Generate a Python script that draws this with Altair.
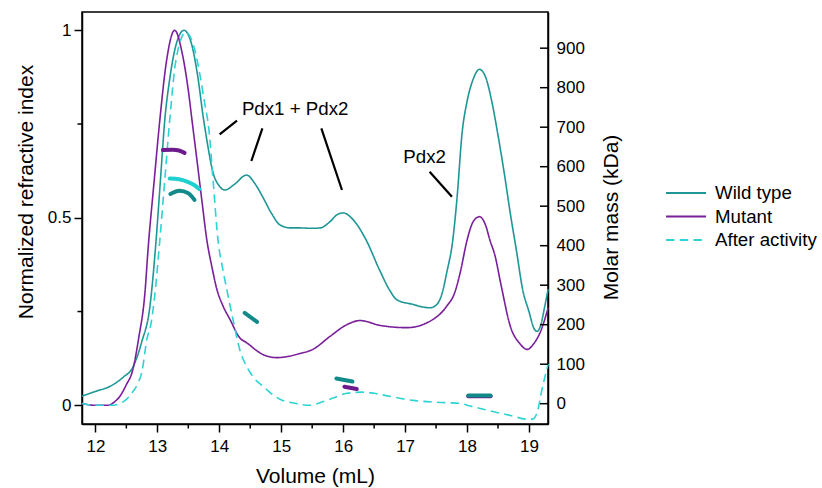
import altair as alt
import pandas as pd

FONT = "Liberation Sans"

# ---------------- data ----------------
series_names = ["Wild type", "Mutant", "After activity"]
series_colors = ["#1f9696", "#7a1f9a", "#2ed3d3"]
series_dash = [[1, 0], [1, 0], [8.5, 5.2]]

wt_x = [11.78, 12.0, 12.23, 12.45, 12.6, 12.75, 12.88, 12.98, 13.05, 13.12, 13.2, 13.3, 13.43,
        13.55, 13.65, 13.74, 13.8, 13.9, 14.0, 14.09, 14.25, 14.44, 14.58, 14.7, 14.85, 14.98,
        15.15, 15.3, 15.5, 15.63, 15.79, 15.9, 16.0, 16.16, 16.37, 16.59, 16.75, 16.87, 17.1,
        17.4, 17.5, 17.6, 17.67, 17.77, 17.84, 17.92, 18.0, 18.1, 18.2, 18.3, 18.4, 18.5, 18.6,
        18.7, 18.8, 18.9, 19.0, 19.08, 19.13, 19.2, 19.25, 19.31]
wt_y = [0.024, 0.037, 0.05, 0.075, 0.1, 0.17, 0.263, 0.44, 0.6, 0.76, 0.87, 0.96, 1.0,
        0.965, 0.88, 0.77, 0.707, 0.62, 0.585, 0.574, 0.59, 0.614, 0.59, 0.556, 0.51, 0.481,
        0.473, 0.473, 0.472, 0.473, 0.49, 0.508, 0.513, 0.495, 0.441, 0.36, 0.307, 0.281, 0.27,
        0.26, 0.267, 0.3, 0.352, 0.441, 0.556, 0.726, 0.81, 0.87, 0.896, 0.875, 0.81, 0.72, 0.62,
        0.51, 0.41, 0.307, 0.25, 0.205, 0.197, 0.22, 0.26, 0.31]

mut_x = [11.78, 12.0, 12.2, 12.3, 12.4, 12.5, 12.6, 12.7, 12.8, 12.85, 12.95, 13.04, 13.15,
         13.28, 13.4, 13.5, 13.56, 13.65, 13.72, 13.8, 13.88, 13.96, 14.06, 14.17, 14.33, 14.44,
         14.71, 14.93, 15.1, 15.3, 15.51, 15.79, 16.06, 16.27, 16.6, 17.03, 17.4, 17.67, 17.8,
         17.89, 18.0, 18.1, 18.2, 18.3, 18.37, 18.45, 18.55, 18.7, 18.85, 18.97, 19.08, 19.18,
         19.31]
mut_y = [0.005, 0.0, 0.0, 0.008, 0.025, 0.055, 0.092, 0.18, 0.3, 0.415, 0.6, 0.76, 0.92,
         1.0, 0.94, 0.84, 0.76, 0.64, 0.545, 0.44, 0.37, 0.31, 0.265, 0.23, 0.18, 0.167,
         0.135, 0.127, 0.13, 0.138, 0.149, 0.184, 0.215, 0.226, 0.213, 0.207, 0.224, 0.264, 0.3,
         0.354, 0.44, 0.49, 0.503, 0.48, 0.44, 0.4, 0.32, 0.21, 0.165, 0.149, 0.165, 0.194,
         0.26]

aa_x = [11.78, 12.0, 12.28, 12.4, 12.5, 12.6, 12.69, 12.75, 12.83, 12.9, 12.95, 13.04, 13.12,
        13.2, 13.3, 13.46, 13.6, 13.7, 13.77, 13.83, 13.9, 13.98, 14.06, 14.12, 14.22, 14.33,
        14.44, 14.55, 14.71, 14.85, 14.98, 15.2, 15.46, 15.68, 15.85, 16.06, 16.32, 16.5, 16.75,
        17.13, 17.51, 17.89, 18.05, 18.25, 18.48, 18.7, 18.97, 19.06, 19.13, 19.22, 19.31]
aa_y = [0.005, 0.0, 0.0, 0.005, 0.016, 0.035, 0.06, 0.088, 0.175, 0.22, 0.28, 0.44, 0.6,
        0.76, 0.92, 0.995, 0.95, 0.87, 0.8, 0.74, 0.6, 0.44, 0.36, 0.31, 0.23, 0.149,
        0.104, 0.075, 0.05, 0.03, 0.016, 0.006, 0.0, 0.01, 0.02, 0.032, 0.035, 0.032, 0.024,
        0.013, 0.008, 0.005, -0.002, -0.01, -0.019, -0.027, -0.037, -0.037, -0.02, 0.05, 0.11]

# molar mass segments (kDa)
seg_ids = ["m1"] * 4 + ["a1"] * 5 + ["w1"] * 4 + ["w2"] * 2 + ["w3"] * 2 + ["m2"] * 2 + ["m3"] * 2 + ["w4"] * 2
seg_series = (["Mutant"] * 4 + ["After activity"] * 5 + ["Wild type"] * 4 + ["Wild type"] * 2
              + ["Wild type"] * 2 + ["Mutant"] * 2 + ["Mutant"] * 2 + ["Wild type"] * 2)
seg_x = [13.09, 13.25, 13.35, 13.44,
         13.2, 13.35, 13.5, 13.6, 13.68,
         13.21, 13.36, 13.5, 13.6,
         14.41, 14.61,
         15.89, 16.15,
         16.02, 16.22,
         18.02, 18.38,
         18.02, 18.38]
seg_mass = [642, 643, 641, 635,
            570, 568, 561, 553, 543,
            531, 539, 533, 516,
            230, 207,
            64, 56,
            43, 37,
            19, 19,
            20.5, 20.5]
seg_names = ["Mutant", "After activity", "Wild type"]
seg_colors = ["#6c1a8c", "#1ed0d0", "#128a8a"]

# annotations
ann_x1 = [14.006, 14.696, 15.648, 17.396]
ann_y1 = [0.7227, 0.7387, 0.7387, 0.623]
ann_x2 = [14.286, 14.518, 15.981, 17.756]
ann_y2 = [0.759, 0.6515, 0.5741, 0.556]
lab_text = ["Pdx1 + Pdx2", "Pdx2"]
lab_x = [15.225, 17.316]
lab_y = [0.774, 0.645]

x_ticks = [12, 13, 14, 15, 16, 17, 18, 19]
x_minor = [12.5, 13.5, 14.5, 15.5, 16.5, 17.5, 18.5]
ri_ticks = [0, 0.5, 1]
ri_minor = [0.25, 0.75]
mass_ticks = [0, 100, 200, 300, 400, 500, 600, 700, 800, 900]

X_DOMAIN = [11.784, 19.307]
RI_DOMAIN = [-0.0499, 1.0488]
MASS_DOMAIN = [-51.4, 991.6]

W, H = 466, 412

# ---------------- frames ----------------
curves = pd.concat([
    pd.DataFrame({"volume": wt_x, "ri": wt_y, "series": "Wild type"}),
    pd.DataFrame({"volume": mut_x, "ri": mut_y, "series": "Mutant"}),
    pd.DataFrame({"volume": aa_x, "ri": aa_y, "series": "After activity"}),
], ignore_index=True)
segs = pd.DataFrame({"seg": seg_ids, "series": seg_series, "volume": seg_x, "mass": seg_mass})
ann = pd.DataFrame({"x1": ann_x1, "y1": ann_y1, "x2": ann_x2, "y2": ann_y2})
labs = pd.DataFrame({"text": lab_text, "lx": lab_x, "ly": lab_y})

# ---------------- encodings ----------------
x_axis = alt.Axis(title="Volume (mL)", values=x_ticks, format="d", tickSize=8, labelPadding=6,
                  titleX=W / 2, titleY=58, titleBaseline="alphabetic", titleAlign="center", grid=False)
ri_axis = alt.Axis(title="Normalized refractive index", values=ri_ticks, format="~g", tickSize=8,
                   labelPadding=3, titleX=-50, titleY=179.5, titleAngle=270, titleAlign="center",
                   titleBaseline="alphabetic", grid=False)
mass_axis = alt.Axis(title="Molar mass (kDa)", orient="right", values=mass_ticks, format="d",
                     ticks=False, tickSize=0, labelPadding=8, titleX=69, titleY=205, titleAngle=270,
                     titleAlign="center", titleBaseline="alphabetic", grid=False)


def X(field):
    return alt.X(f"{field}:Q", scale=alt.Scale(domain=X_DOMAIN, nice=False, zero=False), axis=x_axis)


def YL(field):
    return alt.Y(f"{field}:Q", scale=alt.Scale(domain=RI_DOMAIN, nice=False, zero=False), axis=ri_axis)


def YM(field):
    return alt.Y(f"{field}:Q", scale=alt.Scale(domain=MASS_DOMAIN, nice=False, zero=False), axis=mass_axis)


legend = alt.Legend(title=None, orient="none", legendX=583, legendY=170, symbolType="stroke",
                    symbolSize=1600, symbolStrokeWidth=2, clipHeight=22, rowPadding=1.5,
                    labelFont=FONT, labelFontSize=18.7, labelColor="black", labelOffset=8,
                    padding=0)

curve_layer = alt.Chart(curves).mark_line(strokeWidth=1.6, interpolate="monotone").encode(
    x=X("volume"),
    y=YL("ri"),
    color=alt.Color("series:N", scale=alt.Scale(domain=series_names, range=series_colors), legend=legend),
    strokeDash=alt.StrokeDash("series:N", scale=alt.Scale(domain=series_names, range=series_dash), legend=legend),
)

ann_layer = alt.Chart(ann).mark_rule(color="black", strokeWidth=2.2).encode(
    x=X("x1"), y=YL("y1"), x2="x2:Q", y2="y2:Q")

lab_layer = alt.Chart(labs).mark_text(font=FONT, fontSize=18.7, align="center", baseline="alphabetic",
                                      color="black").encode(x=X("lx"), y=YL("ly"), text="text:N")

xminor_layer = alt.Chart(pd.DataFrame({"v": x_minor})).mark_rule(color="black", strokeWidth=1.5).encode(
    x=X("v"), y=alt.value(H), y2=alt.value(H + 4.5))

yminor_layer = alt.Chart(pd.DataFrame({"v": ri_minor})).mark_rule(color="black", strokeWidth=1.5).encode(
    y=YL("v"), x=alt.value(-4.5), x2=alt.value(0))

seg_layers = []
for nm, col in zip(seg_names, seg_colors):
    seg_layers.append(
        alt.Chart(segs).transform_filter(alt.datum.series == nm)
        .mark_line(color=col, strokeWidth=4, strokeCap="round", interpolate="monotone")
        .encode(x=X("volume"), y=YM("mass"), detail="seg:N")
    )

rtick_layer = alt.Chart(pd.DataFrame({"m": mass_ticks})).mark_rule(color="black", strokeWidth=1.5).encode(
    y=YM("m"), x=alt.value(W - 8), x2=alt.value(W))

left = alt.layer(curve_layer, ann_layer, lab_layer, xminor_layer, yminor_layer)
right = alt.layer(*seg_layers, rtick_layer)

chart = (
    alt.layer(left, right)
    .resolve_scale(y="independent")
    .properties(width=W, height=H, autosize=alt.AutoSizeParams(type="none"),
                padding={"left": 82, "top": 12, "right": 822 - 82 - W, "bottom": 488 - 12 - H},
                background="white")
    .configure_axis(labelFont=FONT, titleFont=FONT, labelFontSize=17, titleFontSize=21,
                    labelColor="black", titleColor="black", domainColor="black", tickColor="black",
                    domainWidth=1.5, tickWidth=1.5, titleFontWeight="normal")
    .configure_view(stroke="black", strokeWidth=1.5)
)

chart.save("out.html", embed_options={"renderer": "svg", "actions": False})
